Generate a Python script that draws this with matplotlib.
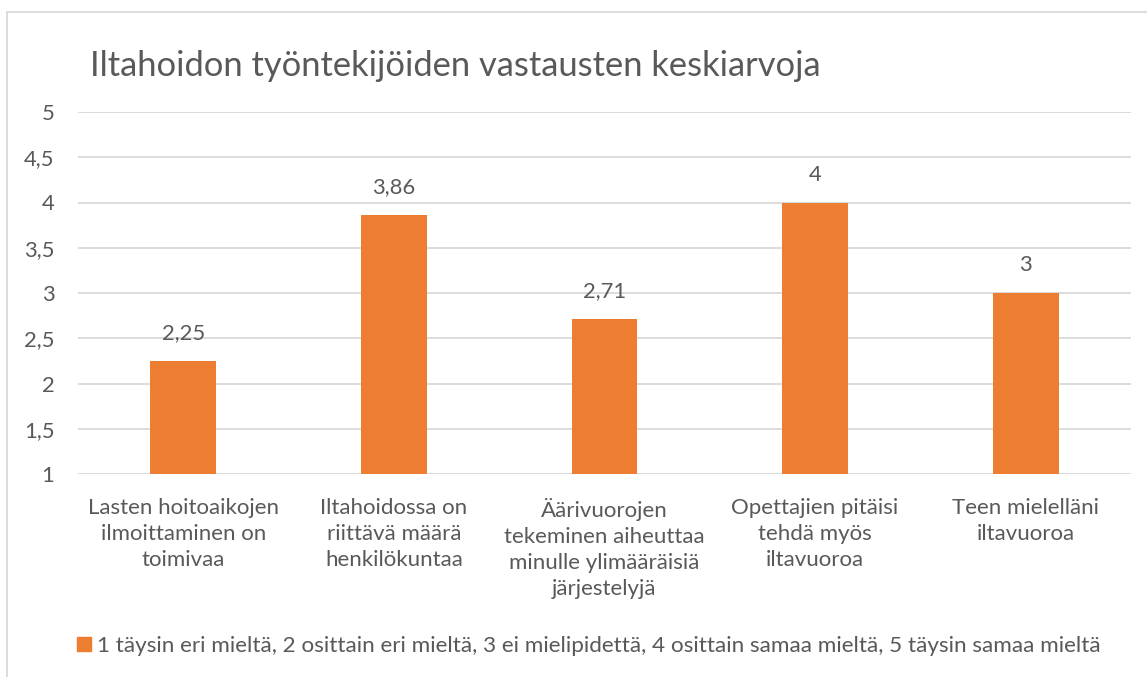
import matplotlib.pyplot as plt
from matplotlib.patches import Rectangle, Patch

kategoriat = [
    "Lasten hoitoaikojen\nilmoittaminen on\ntoimivaa",
    "Iltahoidossa on\nriittävä määrä\nhenkilökuntaa",
    "Äärivuorojen\ntekeminen aiheuttaa\nminulle ylimääräisiä\njärjestelyjä",
    "Opettajien pitäisi\ntehdä myös\niltavuoroa",
    "Teen mielelläni\niltavuoroa",
]
keskiarvot = [2.25, 3.86, 2.71, 4, 3]
y_tikit = [1, 1.5, 2, 2.5, 3, 3.5, 4, 4.5, 5]
otsikko = "Iltahoidon työntekijöiden vastausten keskiarvoja"
selite = ("1 täysin eri mieltä, 2 osittain eri mieltä, 3 ei mielipidettä, "
          "4 osittain samaa mieltä, 5 täysin samaa mieltä")

oranssi = "#ED7D31"
teksti = "#595959"
ruudukko = "#D9D9D9"

plt.rcParams["font.family"] = ["Lato", "DejaVu Sans"]

fig = plt.figure(figsize=(11.47, 6.77), dpi=100)
W, H = 1147, 677

# kaavion reunus
fig.patches.append(Rectangle((7 / W, -0.1), 1.2, 1 - 12 / H + 0.1,
                             transform=fig.transFigure, fill=False,
                             edgecolor=ruudukko, linewidth=1.3))

ax = fig.add_axes([78 / W, 1 - 474 / H, (1131 - 78) / W, (474 - 112) / H])
x = list(range(len(kategoriat)))
palkit = ax.bar(x, [v - 1 for v in keskiarvot], bottom=1, width=0.313,
                color=oranssi, zorder=3)

for xi, v in zip(x, keskiarvot):
    ax.annotate(f"{v:g}".replace(".", ","), (xi, v), xytext=(0, 20),
                textcoords="offset points", ha="center", va="center",
                fontsize=15.8, color=teksti)

ax.set_xlim(-0.5, len(kategoriat) - 0.5)
ax.set_ylim(1, 5)
ax.set_yticks(y_tikit)
ax.set_yticklabels([f"{t:g}".replace(".", ",") for t in y_tikit])
ax.set_xticks(x)
ax.set_xticklabels(kategoriat, linespacing=1.38)
ax.tick_params(axis="y", length=0, pad=17, labelsize=15.8, labelcolor=teksti)
ax.tick_params(axis="x", length=0, pad=17, labelsize=16, labelcolor=teksti)
ax.yaxis.grid(True, color=ruudukko, linewidth=1.3, zorder=0)
for s in ax.spines.values():
    s.set_visible(False)

fig.text(90 / W, 1 - 66 / H, otsikko, fontsize=24.8, color=teksti,
         ha="left", va="center")

fig.legend(handles=[Patch(color=oranssi, label=selite)], loc="center left",
           bbox_to_anchor=(77 / W, 1 - 646 / H), frameon=False,
           borderaxespad=0, borderpad=0,
           fontsize=16.2, labelcolor=teksti, handlelength=0.6,
           handleheight=0.6, handletextpad=0.3)

fig.savefig("out.png", dpi=100)
